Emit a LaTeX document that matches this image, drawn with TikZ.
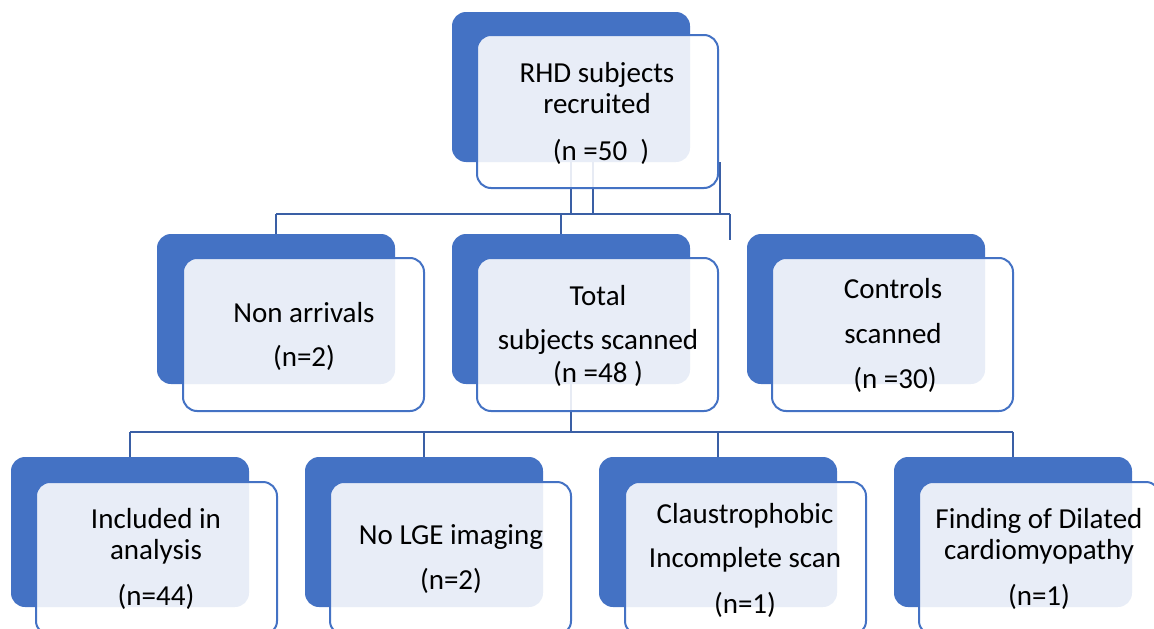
\documentclass[tikz,border=0pt]{standalone}
\usepackage{fontspec}
\setmainfont{Carlito}
\usetikzlibrary{calc}
\definecolor{dkblue}{HTML}{4472C4}
\definecolor{lnblue}{RGB}{58,95,165}
\begin{document}
\begin{tikzpicture}[x=1pt,y=-1pt,
  darkbox/.style={fill=dkblue, rounded corners=14pt, minimum width=238pt, minimum height=150pt, inner sep=0pt, outer sep=0pt, anchor=north west},
  frontbox/.style={draw=dkblue, line width=2pt, fill=white, fill opacity=0.88, rounded corners=14pt, minimum width=241pt, minimum height=153pt, inner sep=0pt, outer sep=0pt, anchor=north west},
  conn/.style={draw=lnblue, line width=2.5pt},
  lbl/.style={font=\fontsize{29}{34}\selectfont, anchor=base, inner sep=0pt}]
\useasboundingbox (0,0) rectangle (1154,629);
\clip (0,0) rectangle (1154,629);
% back (dark) boxes
\node[darkbox] (rhdD) at (452,12) {};
\node[darkbox] (nonD) at (157,234) {};
\node[darkbox] (totD) at (452,234) {};
\node[darkbox] (conD) at (747,234) {};
\node[darkbox] (incD) at (11,457) {};
\node[darkbox] (lgeD) at (305,457) {};
\node[darkbox] (claD) at (599,457) {};
\node[darkbox] (finD) at (894,457) {};
% connectors
\coordinate (busA) at (0,214);
\coordinate (busB) at (0,432);
\draw[conn] (rhdD.south) -- (rhdD.south |- busA);
\draw[conn] ([xshift=22pt]rhdD.south) -- ([xshift=22pt]rhdD.south |- busA);
\draw[conn] ([xshift=30pt]rhdD.south east) -- ([xshift=30pt]rhdD.south east |- busA);
\draw[conn] (nonD.north |- busA) -- ([xshift=40pt]rhdD.south east |- busA);
\draw[conn] (nonD.north |- busA) -- (nonD.north);
\draw[conn] ([xshift=-10pt]totD.north |- busA) -- ([xshift=-10pt]totD.north);
\draw[conn] ([xshift=40pt]rhdD.south east |- busA) -- ([xshift=-17pt,yshift=-6pt]conD.north west);
\draw[conn] (totD.south) -- (totD.south |- busB);
\draw[conn] (incD.north |- busB) -- (finD.north |- busB);
\draw[conn] (incD.north |- busB) -- (incD.north);
\draw[conn] (lgeD.north |- busB) -- (lgeD.north);
\draw[conn] (claD.north |- busB) -- (claD.north);
\draw[conn] (finD.north |- busB) -- (finD.north);
% front boxes
\node[frontbox] (rhd) at (477,35) {};
\node[frontbox] (non) at (183,258) {};
\node[frontbox] (tot) at (477,258) {};
\node[frontbox] (con) at (772,258) {};
\node[frontbox] (inc) at (36,482) {};
\node[frontbox] (lge) at (330,482) {};
\node[frontbox] (cla) at (625,482) {};
\node[frontbox] (fin) at (919,482) {};
% labels
\node[lbl] (rhd1) at (597,82) {RHD subjects};
\node[lbl] (rhd2) at (597,113) {recruited};
\node[lbl] (rhd3) at (601,160) {(n =50\ \ )};
\node[lbl] (non1) at (304,322) {Non arrivals};
\node[lbl] (non2) at (304,366) {(n=2)};
\node[lbl] (tot1) at (598,305) {Total};
\node[lbl] (tot2) at (598,349) {subjects scanned};
\node[lbl] (tot3) at (598,382) {(n =48 )};
\node[lbl] (con1) at (893,298) {Controls};
\node[lbl] (con2) at (893,343) {scanned};
\node[lbl] (con3) at (895,388) {(n =30)};
\node[lbl] (inc1) at (156,528) {Included in};
\node[lbl] (inc2) at (156,559) {analysis};
\node[lbl] (inc3) at (156,605) {(n=44)};
\node[lbl] (lge1) at (451,544) {No LGE imaging};
\node[lbl] (lge2) at (451,589) {(n=2)};
\node[lbl] (cla1) at (745,523) {Claustrophobic};
\node[lbl] (cla2) at (745,567) {Incomplete scan};
\node[lbl] (cla3) at (745,613) {(n=1)};
\node[lbl] (fin1) at (1039,528) {Finding of Dilated};
\node[lbl] (fin2) at (1039,559) {cardiomyopathy};
\node[lbl] (fin3) at (1039,605) {(n=1)};
\end{tikzpicture}
\end{document}
